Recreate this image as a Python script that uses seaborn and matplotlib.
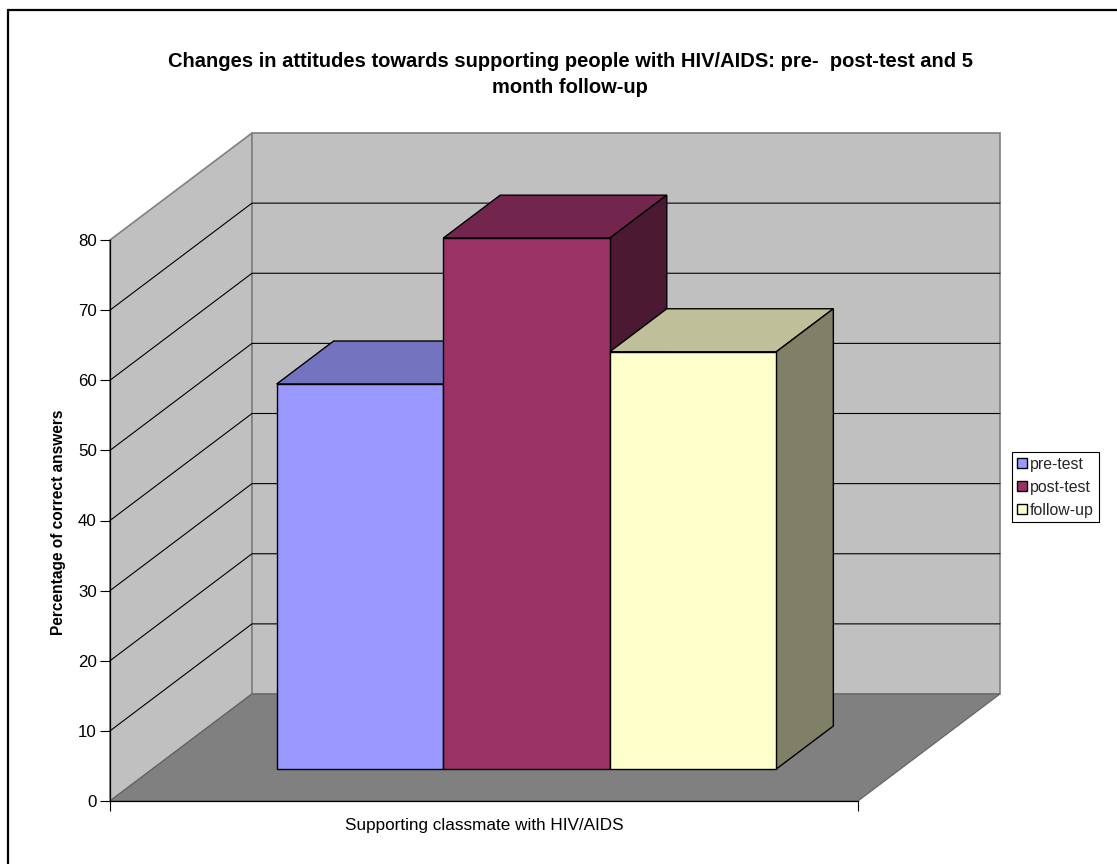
import matplotlib
matplotlib.use("Agg")
import matplotlib.pyplot as plt
from matplotlib.patches import Polygon, Rectangle
from matplotlib.lines import Line2D
from matplotlib.transforms import Affine2D
import pandas as pd
import seaborn as sns

category = ["Supporting classmate with HIV/AIDS"]
series = ["pre-test", "post-test", "follow-up"]
values = [54.9, 75.7, 59.5]
y_ticks = [0, 10, 20, 30, 40, 50, 60, 70, 80]
front_colors = ["#9999FF", "#993366", "#FFFFCC"]
top_colors = ["#7373BF", "#73264D", "#BFBF99"]
side_colors = ["#4C4C80", "#4C1933", "#808066"]
title = "Changes in attitudes towards supporting people with HIV/AIDS: pre-  post-test and 5\nmonth follow-up"
y_label = "Percentage of correct answers"

W, H = 1117, 864
sns.set_style("white")
plt.rcParams["font.family"] = ["Liberation Sans", "DejaVu Sans"]
fig = plt.figure(figsize=(W / 100, H / 100), dpi=100, facecolor="white")
ax = fig.add_axes([110 / W, (H - 801) / H, 748 / W, 561 / H])
ax.patch.set_visible(False)

df = pd.DataFrame({"cat": category * 3, "series": series, "value": values})
sns.barplot(data=df, x="cat", y="value", hue="series", hue_order=series,
            palette=front_colors, saturation=1, width=0.668, gap=0,
            edgecolor="black", linewidth=1.0, ax=ax)
ax.set_xlim(-0.5, 0.5)
ax.set_ylim(0, 80)
bars = sorted([p for p in ax.patches if isinstance(p, Rectangle) and p.get_height() > 0],
              key=lambda b: b.get_x())

WALL_DX, WALL_DY = 142, 107
BAR_DX, BAR_DY = 42.5, 32
BAR_DEPTH_DX, BAR_DEPTH_DY = 57, 43


def pt(x, y, dx=0, dy=0):
    px, py = ax.transData.transform((x, y))
    return (px + dx, py + dy)


def poly(points, **kw):
    p = Polygon(points, closed=True, clip_on=False, **kw)
    ax.add_patch(p)
    p.set_transform(Affine2D())
    return p


x0, x1 = ax.get_xlim()
ymax = ax.get_ylim()[1]

# walls and floor
poly([pt(x0, 0), pt(x0, 0, WALL_DX, WALL_DY), pt(x0, ymax, WALL_DX, WALL_DY), pt(x0, ymax)],
     facecolor="#C0C0C0", edgecolor="#808080", linewidth=1.2, zorder=0.1)
poly([pt(x0, 0, WALL_DX, WALL_DY), pt(x1, 0, WALL_DX, WALL_DY), pt(x1, ymax, WALL_DX, WALL_DY),
      pt(x0, ymax, WALL_DX, WALL_DY)],
     facecolor="#C0C0C0", edgecolor="#808080", linewidth=1.2, zorder=0.1)
poly([pt(x0, 0), pt(x1, 0), pt(x1, 0, WALL_DX, WALL_DY), pt(x0, 0, WALL_DX, WALL_DY)],
     facecolor="#808080", edgecolor="#606060", linewidth=0.8, zorder=0.2)

# gridlines on both walls
for t in y_ticks[1:-1]:
    a, b, c = pt(x0, t), pt(x0, t, WALL_DX, WALL_DY), pt(x1, t, WALL_DX, WALL_DY)
    line = Line2D([a[0], b[0], c[0]], [a[1], b[1], c[1]], color="black", lw=0.8,
                  clip_on=False, zorder=0.3)
    ax.add_line(line)
    line.set_transform(Affine2D())

# bars: front faces come from seaborn, shifted into the depth of the chart
shift = ax.transData + Affine2D().translate(BAR_DX, BAR_DY)
for i, b in enumerate(bars):
    b.set_transform(shift)
    b.set_clip_on(False)
    b.set_zorder(1 + i + 0.5)
    l, r, h = b.get_x(), b.get_x() + b.get_width(), b.get_height()
    dx0, dy0 = BAR_DX, BAR_DY
    dx1, dy1 = BAR_DX + BAR_DEPTH_DX, BAR_DY + BAR_DEPTH_DY
    poly([pt(l, h, dx0, dy0), pt(r, h, dx0, dy0), pt(r, h, dx1, dy1), pt(l, h, dx1, dy1)],
         facecolor=top_colors[i], edgecolor="black", linewidth=1.0, zorder=1 + i + 0.2)
    poly([pt(r, 0, dx0, dy0), pt(r, 0, dx1, dy1), pt(r, h, dx1, dy1), pt(r, h, dx0, dy0)],
         facecolor=side_colors[i], edgecolor="black", linewidth=1.0, zorder=1 + i + 0.2)

# axes furniture
sns.despine(ax=ax, top=True, right=True)
for s in ("left", "bottom"):
    ax.spines[s].set_color("black")
    ax.spines[s].set_linewidth(0.9)
    ax.spines[s].set_zorder(0.5)
ax.set_yticks(y_ticks)
ax.set_xticks([x0, x1], ["", ""])
ax.tick_params(axis="y", left=True, length=7.5, width=0.8, color="black", labelsize=12.2, pad=2,
               labelcolor="black")
ax.tick_params(axis="x", bottom=True, length=7.5, width=0.8, color="black")
ax.set_xlabel(category[0], fontsize=12.3, color="black", labelpad=1.5)
ax.set_ylabel("")
fig.text(58 / W, (H - 522) / H, y_label, rotation=90, ha="center", va="center",
         fontsize=11.2, fontweight="bold", color="black")
fig.text(570 / W, (H - 74.5) / H, title, ha="center", va="center", fontsize=14.5,
         fontweight="bold", color="black", linespacing=1.5)

handles, labels = ax.get_legend_handles_labels()
leg = ax.legend(handles[:3], labels[:3], loc="upper left", bbox_to_anchor=(1012 / W, (H - 452) / H),
                bbox_transform=fig.transFigure, frameon=True, fancybox=False, framealpha=1,
                edgecolor="black", fontsize=11.4, borderpad=0.3, labelspacing=0.5,
                handlelength=0.65, handleheight=0.65, handletextpad=0.2, borderaxespad=0,
                title=None)
leg.get_frame().set_linewidth(0.8)

# chart-area frame
for xs, ys in (([8, 8], [0, H - 10]), ([8, W], [H - 10, H - 10])):
    fig.add_artist(Line2D([x / W for x in xs], [y / H for y in ys], color="black", lw=1.6))

fig.savefig("out.png", dpi=100)
